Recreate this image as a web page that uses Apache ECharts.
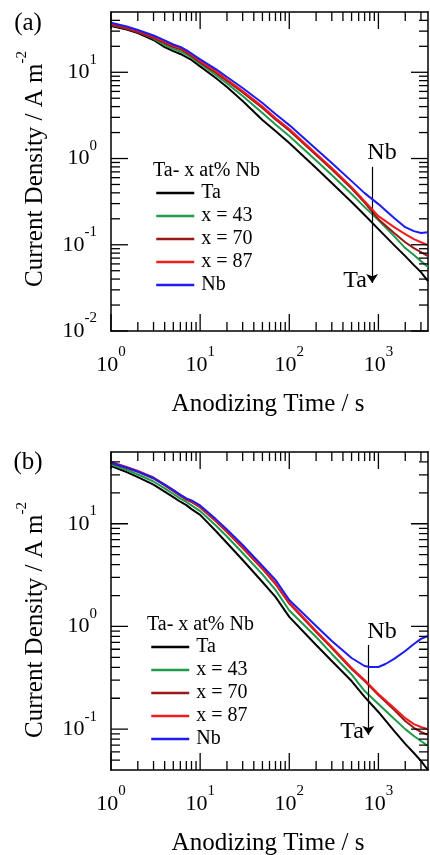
<!DOCTYPE html>
<html>
<head>
<meta charset="utf-8">
<script src="https://cdn.jsdelivr.net/npm/echarts@6/dist/echarts.min.js"></script>
<style>
  html, body { margin: 0; padding: 0; background: #ffffff; }
  #chart { width: 430px; height: 855px; }
</style>
</head>
<body>
<div id="chart"></div>
<script>
// Anodizing time (s) sampled along the transients
const timeS = [1, 1.5, 2, 3, 4, 5, 6, 7, 8, 10, 15, 20, 30, 50, 70, 100, 200, 300, 500, 700, 1000, 1500, 2000, 2500, 3000, 3600];
const timeNbB = [1, 1.5, 2, 3, 4, 5, 6, 7, 8, 10, 15, 20, 30, 50, 70, 100, 200, 300, 500, 700, 800, 1000, 1200, 1500, 2000, 2500, 3000, 3600];

// Panel (a) current density, A m^-2
const aTa  = [34.4, 31.3, 28.5, 23.7, 19.6, 17.6, 16.3, 15.0, 13.9, 11.7, 8.58, 6.74, 4.64, 2.79, 2.08, 1.51, 0.775, 0.519, 0.313, 0.221, 0.152, 0.0991, 0.0739, 0.0581, 0.0482, 0.0379];
const aX43 = [35.3, 32.2, 29.3, 24.6, 20.7, 18.6, 17.4, 16.1, 14.8, 12.6, 9.29, 7.40, 5.30, 3.37, 2.48, 1.82, 0.947, 0.643, 0.387, 0.273, 0.193, 0.126, 0.0915, 0.0759, 0.0646, 0.0551];
const aX70 = [35.4, 31.9, 29.1, 25.0, 21.8, 19.6, 18.5, 16.9, 15.5, 13.0, 9.90, 7.92, 5.82, 3.85, 2.83, 2.11, 1.10, 0.745, 0.448, 0.308, 0.198, 0.137, 0.107, 0.0915, 0.0822, 0.0739];
const aX87 = [36.8, 33.2, 30.3, 26.0, 22.7, 20.4, 19.2, 17.6, 16.1, 13.5, 10.3, 8.24, 6.06, 4.01, 2.95, 2.20, 1.14, 0.775, 0.466, 0.321, 0.215, 0.160, 0.133, 0.116, 0.107, 0.099];
const aNb  = [37.6, 33.9, 30.9, 26.7, 23.4, 21.0, 19.7, 18.1, 16.5, 14.1, 10.9, 8.81, 6.57, 4.40, 3.28, 2.44, 1.29, 0.886, 0.547, 0.397, 0.296, 0.204, 0.160, 0.144, 0.137, 0.140];

// Panel (b) current density, A m^-2
const bTa  = [36.5, 31.9, 28.5, 24.1, 20.6, 18.2, 16.4, 15.2, 13.9, 12.2, 8.51, 6.50, 4.44, 2.71, 1.94, 1.24, 0.660, 0.461, 0.294, 0.206, 0.147, 0.0960, 0.0718, 0.0586, 0.0490, 0.0400];
const bX43 = [37.8, 33.4, 30.2, 25.8, 22.1, 19.5, 17.6, 16.3, 15.1, 13.3, 9.62, 7.52, 5.19, 3.21, 2.27, 1.43, 0.790, 0.540, 0.341, 0.235, 0.176, 0.126, 0.100, 0.0858, 0.0767, 0.0686];
const bX70 = [39.1, 34.9, 32.0, 27.6, 23.6, 20.8, 18.7, 17.2, 16.3, 14.4, 10.6, 8.32, 5.81, 3.63, 2.59, 1.67, 0.884, 0.617, 0.385, 0.294, 0.215, 0.154, 0.120, 0.103, 0.0939, 0.0878];
const bX87 = [40.0, 35.7, 32.7, 28.2, 24.1, 21.3, 19.1, 17.6, 16.7, 14.7, 10.8, 8.51, 5.94, 3.71, 2.65, 1.71, 0.904, 0.631, 0.394, 0.301, 0.220, 0.161, 0.128, 0.112, 0.105, 0.100];
const bNb  = [39.3, 35.3, 32.3, 27.9, 24.1, 21.3, 19.1, 17.7, 16.9, 15.1, 11.1, 8.80, 6.22, 3.88, 2.84, 1.81, 1.01, 0.722, 0.493, 0.412, 0.403, 0.403, 0.431, 0.483, 0.577, 0.675, 0.756, 0.808];

// Legend entries and colours
const seriesNames = ['Ta', 'x = 43', 'x = 70', 'x = 87', 'Nb'];
const seriesColors = ['#000000', '#1e9a4a', '#9a1717', '#f21c1c', '#1c1cf2'];

// Axis ranges and tick positions
const xRange = [1, 3600];
const yRangeA = [0.01, 50];
const yRangeB = [0.04, 50];
const xMajor = [1, 10, 100, 1000];
const xMinor = [2, 3, 4, 5, 6, 7, 8, 9, 20, 30, 40, 50, 60, 70, 80, 90, 200, 300, 400, 500, 600, 700, 800, 900, 2000, 3000];
const yMajorA = [0.01, 0.1, 1, 10];
const yMinorA = [0.02, 0.03, 0.04, 0.05, 0.06, 0.07, 0.08, 0.09, 0.2, 0.3, 0.4, 0.5, 0.6, 0.7, 0.8, 0.9, 2, 3, 4, 5, 6, 7, 8, 9, 20, 30, 40];
const yMajorB = [0.1, 1, 10];
const yMinorB = [0.05, 0.06, 0.07, 0.08, 0.09, 0.2, 0.3, 0.4, 0.5, 0.6, 0.7, 0.8, 0.9, 2, 3, 4, 5, 6, 7, 8, 9, 20, 30, 40];

// Arrow annotations: [time, upper j, lower j]
const arrowA = [850, 0.80, 0.036];
const arrowB = [770, 0.66, 0.088];

const FONT = '"Liberation Serif", "Times New Roman", serif';
const MAJOR_LEN = 17;   // px
const MINOR_LEN = 9;    // px
const gridBoxes = [
  { left: 111, top: 12, width: 317, height: 319, outerBoundsMode: 'none' },
  { left: 111, top: 452, width: 317, height: 318, outerBoundsMode: 'none' }
];

const chart = echarts.init(document.getElementById('chart'), null, { renderer: 'canvas' });

function pow10Label(v) {
  const e = Math.round(Math.log10(v));
  return '{b|10}{s|' + e + '}';
}
const labelRich = {
  b: { fontSize: 22, fontFamily: FONT, color: '#000', lineHeight: 40 },
  s: { fontSize: 15, fontFamily: FONT, color: '#000', lineHeight: 16, verticalAlign: 'top' }
};

function makeAxis(gridIndex, position, range, labels) {
  const ax = {
    type: 'log', logBase: 10, gridIndex: gridIndex, position: position,
    min: range[0], max: range[1],
    axisLine: { show: true, onZero: false, lineStyle: { color: '#000', width: 1.5 } },
    axisTick: { show: false },
    axisLabel: { show: false },
    splitLine: { show: false },
    minorTick: { show: false },
    minorSplitLine: { show: false }
  };
  if (labels) {
    ax.axisLabel = {
      show: true, customValues: labels, formatter: pow10Label,
      margin: 14, rich: labelRich, color: '#000'
    };
  }
  return ax;
}

const panels = [
  { yRange: yRangeA, yMajor: yMajorA, yMinor: yMinorA,
    ts: [timeS, timeS, timeS, timeS, timeS], vs: [aTa, aX43, aX70, aX87, aNb], arrow: arrowA },
  { yRange: yRangeB, yMajor: yMajorB, yMinor: yMinorB,
    ts: [timeS, timeS, timeS, timeS, timeNbB], vs: [bTa, bX43, bX70, bX87, bNb], arrow: arrowB }
];

const xAxes = [];
const yAxes = [];
panels.forEach(function (p, g) {
  xAxes.push(makeAxis(g, 'bottom', xRange, xMajor));
  xAxes.push(makeAxis(g, 'top', xRange, null));
  yAxes.push(makeAxis(g, 'left', p.yRange, p.yMajor));
  yAxes.push(makeAxis(g, 'right', p.yRange, null));
});

function pairs(ts, vs) { return ts.map(function (t, i) { return [t, vs[i]]; }); }

function arrowMark(a) {
  return {
    silent: true,
    symbol: ['none', 'arrow'],
    symbolSize: 9,
    label: { show: false },
    lineStyle: { color: '#000', width: 1.2, type: 'solid' },
    emphasis: { disabled: true },
    data: [[{ coord: [a[0], a[1]] }, { coord: [a[0], a[2]] }]]
  };
}

const series = [];
panels.forEach(function (p, g) {
  seriesNames.forEach(function (name, k) {
    const s = {
      type: 'line', name: name,
      xAxisIndex: g * 2, yAxisIndex: g * 2,
      data: pairs(p.ts[k], p.vs[k]),
      symbol: 'none', showSymbol: false,
      lineStyle: { color: seriesColors[k], width: 2 },
      itemStyle: { color: seriesColors[k] },
      emphasis: { disabled: true },
      z: 2 + k
    };
    if (k === 0) s.markLine = arrowMark(p.arrow);
    series.push(s);
  });
});

// Inward tick marks on all four sides of each panel, each one a short two-point
// line on that panel's log axes; a pixel length becomes a factor along the scale.
function tickSegment(g, from, to) {
  return {
    type: 'line', name: 'tick',
    xAxisIndex: g * 2, yAxisIndex: g * 2,
    data: [from, to],
    symbol: 'none', showSymbol: false,
    silent: true, clip: false, z: 20,
    lineStyle: { color: '#000', width: 1.3 },
    itemStyle: { color: '#000' },
    emphasis: { disabled: true },
    tooltip: { show: false }
  };
}
panels.forEach(function (p, g) {
  const box = gridBoxes[g];
  const xDecPx = box.width / Math.log10(xRange[1] / xRange[0]);
  const yDecPx = box.height / Math.log10(p.yRange[1] / p.yRange[0]);
  function xTicks(values, len) {
    const f = Math.pow(10, len / yDecPx);
    values.forEach(function (v) {
      series.push(tickSegment(g, [v, p.yRange[0]], [v, p.yRange[0] * f]));
      series.push(tickSegment(g, [v, p.yRange[1]], [v, p.yRange[1] / f]));
    });
  }
  function yTicks(values, len) {
    const f = Math.pow(10, len / xDecPx);
    values.forEach(function (v) {
      series.push(tickSegment(g, [xRange[0], v], [xRange[0] * f, v]));
      series.push(tickSegment(g, [xRange[1], v], [xRange[1] / f, v]));
    });
  }
  xTicks(xMajor, MAJOR_LEN);
  xTicks(xMinor, MINOR_LEN);
  yTicks(p.yMajor, MAJOR_LEN);
  yTicks(p.yMinor, MINOR_LEN);
});

function legendAt(left, top) {
  return {
    data: seriesNames, orient: 'vertical', left: left, top: top,
    itemWidth: 38, itemHeight: 20, itemGap: 3, padding: 0,
    selectedMode: false,
    itemStyle: { opacity: 0, borderWidth: 0 },
    lineStyle: { width: 2.5 },
    textStyle: { fontSize: 20, fontFamily: FONT, color: '#000', lineHeight: 20, padding: [0, 0, 0, 2] }
  };
}

function txt(x, y, text, size, extra) {
  return {
    type: 'text', x: x, y: y, silent: true,
    style: Object.assign({ text: text, fontSize: size, fontFamily: FONT, fill: '#000',
                           align: 'center', verticalAlign: 'middle' }, extra || {})
  };
}

const yTitleRich = {
  m: { fontSize: 25, fontFamily: FONT, fill: '#000', lineHeight: 40 },
  s: { fontSize: 15, fontFamily: FONT, fill: '#000', lineHeight: 16, verticalAlign: 'top' }
};

function yTitle(x, y) {
  const el = txt(x, y, '{m|Current Density / A m}{s|-2}', 25, { rich: yTitleRich });
  el.rotation = Math.PI / 2;
  return el;
}

const graphics = [
  txt(28, 23, '(a)', 25),
  txt(28, 462, '(b)', 25),
  yTitle(35, 169),
  yTitle(35, 620),
  txt(268, 404, 'Anodizing Time / s', 25),
  txt(268, 843, 'Anodizing Time / s', 25),
  txt(153, 171, 'Ta- x at% Nb', 20, { align: 'left' }),
  txt(147, 625, 'Ta- x at% Nb', 20, { align: 'left' }),
  txt(382, 153, 'Nb', 24),
  txt(355, 281, 'Ta', 24),
  txt(382, 632, 'Nb', 24),
  txt(352, 732, 'Ta', 24)
];

chart.setOption({
  animation: false,
  backgroundColor: '#ffffff',
  textStyle: { fontFamily: FONT },
  grid: gridBoxes,
  xAxis: xAxes,
  yAxis: yAxes,
  legend: [legendAt(155, 183), legendAt(150, 637)],
  series: series,
  graphic: graphics
});
</script>
</body>
</html>
